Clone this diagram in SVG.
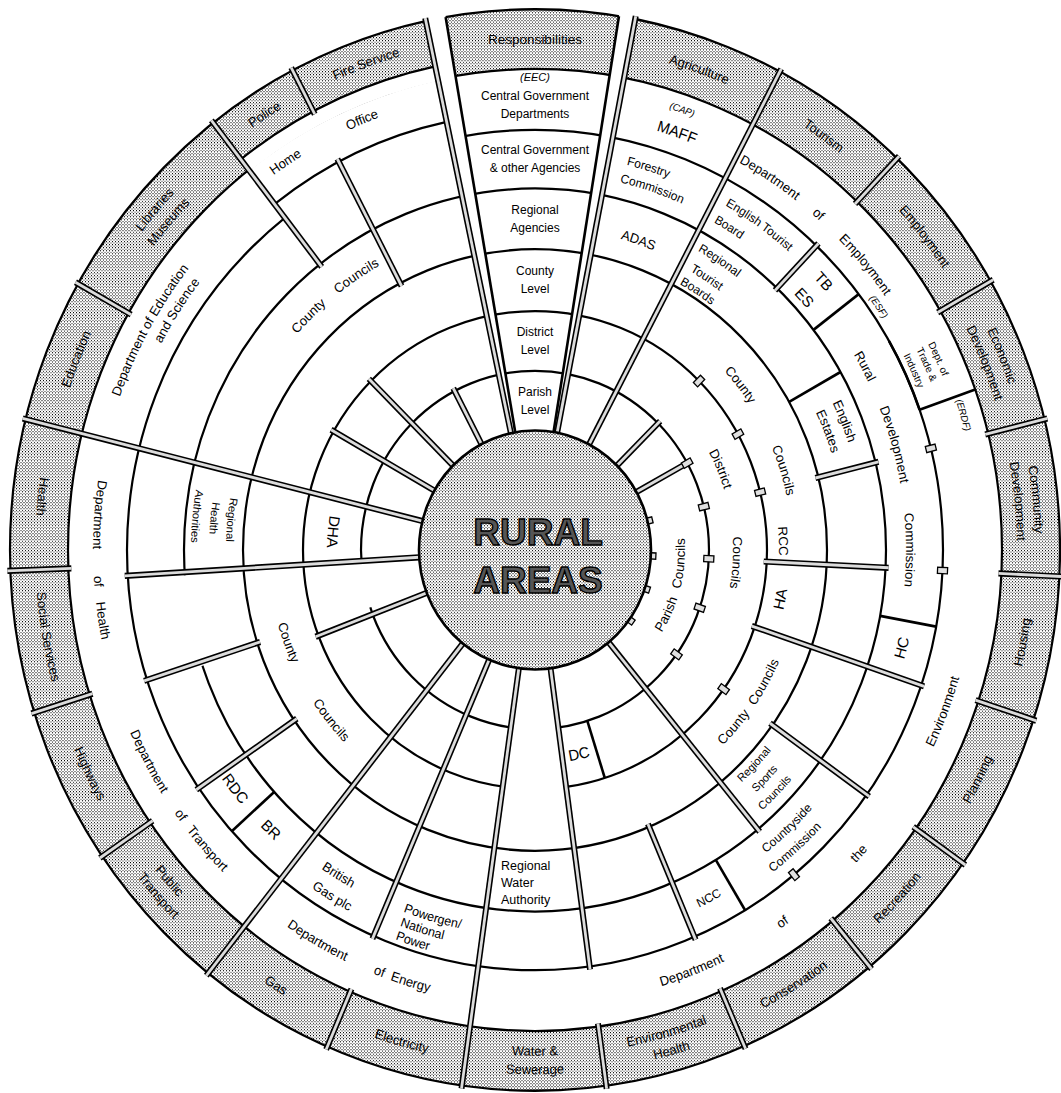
<svg xmlns="http://www.w3.org/2000/svg" xmlns:xlink="http://www.w3.org/1999/xlink" width="1061" height="1093" viewBox="0 0 1061 1093">
<defs>
<pattern id="st" width="3" height="3" patternUnits="userSpaceOnUse"><rect width="3" height="3" fill="#fff"/><rect width="1" height="1" fill="#000"/><rect x="1.5" y="1.5" width="1" height="1" fill="#000"/></pattern>
<path id="o490" d="M0,491A491,491 0 1,1 0,-491A491,491 0 1,1 0,491"/>
<path id="o498" d="M0,498A498,498 0 1,1 0,-498A498,498 0 1,1 0,498"/>
<path id="o499" d="M0,500A500,500 0 1,1 0,-500A500,500 0 1,1 0,500"/>
<path id="o481" d="M0,482A482,482 0 1,1 0,-482A482,482 0 1,1 0,482"/>
<path id="i499" d="M0,-500A500,500 0 1,0 0,500A500,500 0 1,0 0,-500"/>
<path id="i489" d="M0,-491A491,491 0 1,0 0,491A491,491 0 1,0 0,-491"/>
<path id="i507" d="M0,-509A509,509 0 1,0 0,509A509,509 0 1,0 0,-509"/>
<path id="o448" d="M0,448A448,448 0 1,1 0,-448A448,448 0 1,1 0,448"/>
<path id="o447" d="M0,449A449,449 0 1,1 0,-449A449,449 0 1,1 0,449"/>
<path id="o443" d="M0,445A445,445 0 1,1 0,-445A445,445 0 1,1 0,445"/>
<path id="o441" d="M0,441A441,441 0 1,1 0,-441A441,441 0 1,1 0,441"/>
<path id="o428" d="M0,428A428,428 0 1,1 0,-428A428,428 0 1,1 0,428"/>
<path id="o425" d="M0,425A425,425 0 1,1 0,-425A425,425 0 1,1 0,425"/>
<path id="o424" d="M0,424A424,424 0 1,1 0,-424A424,424 0 1,1 0,424"/>
<path id="o414" d="M0,414A414,414 0 1,1 0,-414A414,414 0 1,1 0,414"/>
<path id="i441" d="M0,-442A442,442 0 1,0 0,442A442,442 0 1,0 0,-442"/>
<path id="o385" d="M0,385A385,385 0 1,1 0,-385A385,385 0 1,1 0,385"/>
<path id="o384" d="M0,384A384,384 0 1,1 0,-384A384,384 0 1,1 0,384"/>
<path id="o371" d="M0,371A371,371 0 1,1 0,-371A371,371 0 1,1 0,371"/>
<path id="o367" d="M0,367A367,367 0 1,1 0,-367A367,367 0 1,1 0,367"/>
<path id="o365" d="M0,365A365,365 0 1,1 0,-365A365,365 0 1,1 0,365"/>
<path id="o359" d="M0,359A359,359 0 1,1 0,-359A359,359 0 1,1 0,359"/>
<path id="i374" d="M0,-374A374,374 0 1,0 0,374A374,374 0 1,0 0,-374"/>
<path id="i375" d="M0,-375A375,375 0 1,0 0,375A375,375 0 1,0 0,-375"/>
<path id="i376" d="M0,-376A376,376 0 1,0 0,376A376,376 0 1,0 0,-376"/>
<path id="i384" d="M0,-384A384,384 0 1,0 0,384A384,384 0 1,0 0,-384"/>
<path id="i389" d="M0,-389A389,389 0 1,0 0,389A389,389 0 1,0 0,-389"/>
<path id="i393" d="M0,-393A393,393 0 1,0 0,393A393,393 0 1,0 0,-393"/>
<path id="i397" d="M0,-397A397,397 0 1,0 0,397A397,397 0 1,0 0,-397"/>
<path id="i403" d="M0,-403A403,403 0 1,0 0,403A403,403 0 1,0 0,-403"/>
<path id="o333" d="M0,333A333,333 0 1,1 0,-333A333,333 0 1,1 0,333"/>
<path id="o330" d="M0,330A330,330 0 1,1 0,-330A330,330 0 1,1 0,330"/>
<path id="o317" d="M0,317A317,317 0 1,1 0,-317A317,317 0 1,1 0,317"/>
<path id="o314" d="M0,314A314,314 0 1,1 0,-314A314,314 0 1,1 0,314"/>
<path id="o312" d="M0,312A312,312 0 1,1 0,-312A312,312 0 1,1 0,312"/>
<path id="o311" d="M0,311A311,311 0 1,1 0,-311A311,311 0 1,1 0,311"/>
<path id="o296" d="M0,296A296,296 0 1,1 0,-296A296,296 0 1,1 0,296"/>
<path id="i306" d="M0,-306A306,306 0 1,0 0,306A306,306 0 1,0 0,-306"/>
<path id="i309" d="M0,-309A309,309 0 1,0 0,309A309,309 0 1,0 0,-309"/>
<path id="i323" d="M0,-323A323,323 0 1,0 0,323A323,323 0 1,0 0,-323"/>
<path id="i326" d="M0,-326A326,326 0 1,0 0,326A326,326 0 1,0 0,-326"/>
<path id="i340" d="M0,-340A340,340 0 1,0 0,340A340,340 0 1,0 0,-340"/>
<path id="i344" d="M0,-344A344,344 0 1,0 0,344A344,344 0 1,0 0,-344"/>
<path id="o257" d="M0,257A257,257 0 1,1 0,-257A257,257 0 1,1 0,257"/>
<path id="o244" d="M0,244A244,244 0 1,1 0,-244A244,244 0 1,1 0,244"/>
<path id="i255" d="M0,-255A255,255 0 1,0 0,255A255,255 0 1,0 0,-255"/>
<path id="i267" d="M0,-267A267,267 0 1,0 0,267A267,267 0 1,0 0,-267"/>
<path id="o198" d="M0,198A198,198 0 1,1 0,-198A198,198 0 1,1 0,198"/>
<path id="i208" d="M0,-208A208,208 0 1,0 0,208A208,208 0 1,0 0,-208"/>
<path id="i150" d="M0,-150A150,150 0 1,0 0,150A150,150 0 1,0 0,-150"/>
<rect id="mk" x="-5" y="-3" width="10" height="6"/>
</defs>
<style>
.ln{fill:none;stroke:#000;stroke-width:2.2}
.er{fill:none;stroke:#fff;stroke-width:4.5}
.bar line{stroke:#000;stroke-width:6}
.bar line.in{stroke:#dcdcdc;stroke-width:2.8}
.mk use{fill:#e0e0e0;stroke:#000;stroke-width:1.3}
.sol{stroke:#000;stroke-width:2.6;fill:none}
text{font-family:"Liberation Sans",Arial,Helvetica,sans-serif;font-size:13px;fill:#000;text-anchor:middle}
.sm{font-size:10px}
.it{font-style:italic;font-size:9.5px}
.big{font-size:15px}
.c12{font-size:12px}
.c125{font-size:12.5px}
.c11{font-size:11px}
.ws{word-spacing:12px}
.rural{font-size:37px;font-weight:bold;fill:#555;stroke:#000;stroke-width:1.4}
</style>
<rect width="1061" height="1093" fill="#fff"/>
<g id="wheel" transform="translate(535,550) scale(1,1.03)">
<path id="outer-ring" d="M0,-525A525,525 0 1,1 0,525A525,525 0 1,1 0,-525Z M0,-467A467,467 0 1,0 0,467A467,467 0 1,0 0,-467Z" fill="url(#st)" fill-rule="evenodd"/>
<g id="rings">
<circle class="ln" r="525" stroke-width="2.6"/>
<circle class="ln" r="467"/>
<circle class="ln" r="408"/>
<circle class="ln" r="351"/>
<circle class="ln" r="292"/>
<circle class="ln" r="232"/>
<circle class="ln" r="174"/>
</g>
<g id="erase">
<path class="er" d="M-332.5,112.3A351,351 0 0,1 -350.1,24.5"/>
<path class="er" d="M-164.8,55.7A174,174 0 0,1 -173.6,12.1"/>
<path class="er" d="M22.41,172.55A174,174 0 0,1 -23.31,172.43"/>
<path class="er" d="M29.88,230.07A232,232 0 0,1 -31.09,229.91"/>
<path d="M-285.31,-367.82A465.5,465.5 0 0,1 -96.78,-455.33L-99.80,-469.51A480,480 0 0,0 -294.20,-379.28Z" fill="#fff"/>
<path class="ln" d="M-294.20,-379.28A480,480 0 0,1 -99.80,-469.51"/>
<path class="er" d="M-250.07,-322.39A408,408 0 0,1 -84.83,-399.08"/>
<path class="ln" d="M-260.49,-335.82A425,425 0 0,1 -88.36,-415.71"/>
</g>
<g id="channels" fill="#fff">
<polygon points="18.55,-114.51 22.13,-113.87 101.13,-520.26 84.74,-523.18"/>
<polygon points="-19.74,-114.31 -24.12,-113.47 -110.19,-518.42 -90.21,-522.27"/>
</g>
<g id="column-edges" class="sol">
<line y1="-116" y2="-525" transform="rotate(9.2)"/>
<line y1="-116" y2="-525" transform="rotate(-9.8)"/>
</g>
<g id="connectors">
<g class="bar" transform="rotate(11)"><line y1="-116" y2="-528"/><line class="in" y1="-116" y2="-528"/></g>
<g class="bar" transform="rotate(-12)"><line y1="-116" y2="-528"/><line class="in" y1="-116" y2="-528"/></g>
<g class="bar" transform="rotate(27.8)"><line y1="-116" y2="-528"/><line class="in" y1="-116" y2="-528"/></g>
<g class="bar" transform="rotate(45)"><line y1="-116" y2="-177"/><line class="in" y1="-116" y2="-177"/></g>
<g class="bar" transform="rotate(43.6)"><line y1="-348" y2="-411"/><line class="in" y1="-348" y2="-411"/></g>
<g class="bar" transform="rotate(43.6)"><line y1="-464" y2="-528"/><line class="in" y1="-464" y2="-528"/></g>
<g class="bar" transform="rotate(61)"><line y1="-116" y2="-177"/><line class="in" y1="-116" y2="-177"/></g>
<g class="bar" transform="rotate(60.2)"><line y1="-464" y2="-528"/><line class="in" y1="-464" y2="-528"/></g>
<g class="bar" transform="rotate(76)"><line y1="-289" y2="-354"/><line class="in" y1="-289" y2="-354"/></g>
<g class="bar" transform="rotate(76)"><line y1="-464" y2="-528"/><line class="in" y1="-464" y2="-528"/></g>
<g class="bar" transform="rotate(92.8)"><line y1="-229" y2="-354"/><line class="in" y1="-229" y2="-354"/></g>
<g class="bar" transform="rotate(92.8)"><line y1="-464" y2="-528"/><line class="in" y1="-464" y2="-528"/></g>
<g class="bar" transform="rotate(108.8)"><line y1="-229" y2="-411"/><line class="in" y1="-229" y2="-411"/></g>
<g class="bar" transform="rotate(108.3)"><line y1="-464" y2="-528"/><line class="in" y1="-464" y2="-528"/></g>
<g class="bar" transform="rotate(125.6)"><line y1="-289" y2="-411"/><line class="in" y1="-289" y2="-411"/></g>
<g class="bar" transform="rotate(125.4)"><line y1="-464" y2="-528"/><line class="in" y1="-464" y2="-528"/></g>
<g class="bar" transform="rotate(140.6)"><line y1="-116" y2="-354"/><line class="in" y1="-116" y2="-354"/></g>
<g class="bar" transform="rotate(140.4)"><line y1="-464" y2="-528"/><line class="in" y1="-464" y2="-528"/></g>
<g class="bar" transform="rotate(157)"><line y1="-289" y2="-411"/><line class="in" y1="-289" y2="-411"/></g>
<g class="bar" transform="rotate(156.5)"><line y1="-464" y2="-528"/><line class="in" y1="-464" y2="-528"/></g>
<g class="bar" transform="rotate(172.3)"><line y1="-116" y2="-411"/><line class="in" y1="-116" y2="-411"/></g>
<g class="bar" transform="rotate(172.2)"><line y1="-464" y2="-528"/><line class="in" y1="-464" y2="-528"/></g>
<g class="bar" transform="rotate(188)"><line y1="-116" y2="-528"/><line class="in" y1="-116" y2="-528"/></g>
<g class="bar" transform="rotate(203.3)"><line y1="-116" y2="-411"/><line class="in" y1="-116" y2="-411"/></g>
<g class="bar" transform="rotate(203.3)"><line y1="-464" y2="-528"/><line class="in" y1="-464" y2="-528"/></g>
<g class="bar" transform="rotate(218.5)"><line y1="-116" y2="-528"/><line class="in" y1="-116" y2="-528"/></g>
<g class="bar" transform="rotate(235.5)"><line y1="-289" y2="-411"/><line class="in" y1="-289" y2="-411"/></g>
<g class="bar" transform="rotate(235.5)"><line y1="-464" y2="-528"/><line class="in" y1="-464" y2="-528"/></g>
<g class="bar" transform="rotate(249)"><line y1="-116" y2="-235"/><line class="in" y1="-116" y2="-235"/></g>
<g class="bar" transform="rotate(252)"><line y1="-289" y2="-411"/><line class="in" y1="-289" y2="-411"/></g>
<g class="bar" transform="rotate(252.5)"><line y1="-464" y2="-528"/><line class="in" y1="-464" y2="-528"/></g>
<g class="bar" transform="rotate(266.5)"><line y1="-116" y2="-411"/><line class="in" y1="-116" y2="-411"/></g>
<g class="bar" transform="rotate(267.8)"><line y1="-464" y2="-528"/><line class="in" y1="-464" y2="-528"/></g>
<g class="bar" transform="rotate(284)"><line y1="-116" y2="-528"/><line class="in" y1="-116" y2="-528"/></g>
<g class="bar" transform="rotate(299.8)"><line y1="-116" y2="-235"/><line class="in" y1="-116" y2="-235"/></g>
<g class="bar" transform="rotate(299.5)"><line y1="-464" y2="-528"/><line class="in" y1="-464" y2="-528"/></g>
<g class="bar" transform="rotate(315)"><line y1="-116" y2="-235"/><line class="in" y1="-116" y2="-235"/></g>
<g class="bar" transform="rotate(322.2)"><line y1="-348" y2="-528"/><line class="in" y1="-348" y2="-528"/></g>
<g class="bar" transform="rotate(332.5)"><line y1="-116" y2="-177"/><line class="in" y1="-116" y2="-177"/></g>
<g class="bar" transform="rotate(332.5)"><line y1="-289" y2="-428"/><line class="in" y1="-289" y2="-428"/></g>
<g class="bar" transform="rotate(332.5)"><line y1="-477" y2="-528"/><line class="in" y1="-477" y2="-528"/></g>
<line class="sol" y1="-351" y2="-408" transform="rotate(228)"/>
<line class="sol" y1="-351" y2="-408" transform="rotate(100.5)"/>
<line class="sol" y1="-351" y2="-408" transform="rotate(149)"/>
<line class="sol" y1="-351" y2="-408" transform="rotate(52.5)"/>
<line class="sol" y1="-408" y2="-467" transform="rotate(70.5)"/>
<line class="sol" y1="-292" y2="-351" transform="rotate(60.5)"/>
<line class="sol" y1="-174" y2="-232" transform="rotate(162.5)"/>
<path class="sol" d="M354.09,-202.73A408,408 0 0,1 384.60,-136.19"/>
<g class="mk">
<use href="#mk" transform="rotate(76) translate(0,-116) rotate(90)"/>
<use href="#mk" transform="rotate(76) translate(0,-174) rotate(90)"/>
<use href="#mk" transform="rotate(76) translate(0,-232) rotate(90)"/>
<use href="#mk" transform="rotate(76) translate(0,-408) rotate(90)"/>
<use href="#mk" transform="rotate(92.8) translate(0,-116) rotate(90)"/>
<use href="#mk" transform="rotate(92.8) translate(0,-174) rotate(90)"/>
<use href="#mk" transform="rotate(92.8) translate(0,-408) rotate(90)"/>
<use href="#mk" transform="rotate(108.8) translate(0,-116) rotate(90)"/>
<use href="#mk" transform="rotate(108.8) translate(0,-174) rotate(90)"/>
<use href="#mk" transform="rotate(125.6) translate(0,-116) rotate(90)"/>
<use href="#mk" transform="rotate(125.6) translate(0,-174) rotate(90)"/>
<use href="#mk" transform="rotate(125.6) translate(0,-232) rotate(90)"/>
<use href="#mk" transform="rotate(140.6) translate(0,-408) rotate(90)"/>
<use href="#mk" transform="rotate(61) translate(0,-232) rotate(90)"/>
<use href="#mk" transform="rotate(61) translate(0,-174) rotate(90)"/>
<use href="#mk" transform="rotate(45) translate(0,-232) rotate(90)"/>
</g>
</g>
<g id="outer-labels">
<text transform="rotate(19.4)"><textPath href="#o490" startOffset="50%">Agriculture</textPath></text>
<text transform="rotate(35.7)"><textPath href="#o490" startOffset="50%">Tourism</textPath></text>
<text transform="rotate(52)"><textPath href="#o490" startOffset="50%">Employment</textPath></text>
<text transform="rotate(68)"><textPath href="#o499" startOffset="50%">Economic</textPath></text>
<text transform="rotate(68)"><textPath href="#o481" startOffset="50%">Development</textPath></text>
<text transform="rotate(84.4)"><textPath href="#o499" startOffset="50%">Community</textPath></text>
<text transform="rotate(84.4)"><textPath href="#o481" startOffset="50%">Development</textPath></text>
<text transform="rotate(-79.6)"><textPath href="#i499" startOffset="50%">Housing</textPath></text>
<text transform="rotate(-63.3)"><textPath href="#i499" startOffset="50%">Planning</textPath></text>
<text transform="rotate(-47)"><textPath href="#i499" startOffset="50%">Recreation</textPath></text>
<text transform="rotate(-31.5)"><textPath href="#i499" startOffset="50%">Conservation</textPath></text>
<text transform="rotate(-15.7)"><textPath href="#i489" startOffset="50%">Environmental</textPath></text>
<text transform="rotate(-15.7)"><textPath href="#i507" startOffset="50%">Health</textPath></text>
<text><textPath href="#i489" startOffset="50%">Water &amp;</textPath></text>
<text><textPath href="#i507" startOffset="50%">Sewerage</textPath></text>
<text transform="rotate(15.6)"><textPath href="#i499" startOffset="50%">Electricity</textPath></text>
<text transform="rotate(31.5)"><textPath href="#i499" startOffset="50%">Gas</textPath></text>
<text transform="rotate(48.7)"><textPath href="#i489" startOffset="50%">Public</textPath></text>
<text transform="rotate(48.3)"><textPath href="#i507" startOffset="50%">Transport</textPath></text>
<text transform="rotate(64)"><textPath href="#i499" startOffset="50%">Highways</textPath></text>
<text transform="rotate(80.2)"><textPath href="#i499" startOffset="50%">Social Services</textPath></text>
<text transform="rotate(96)"><textPath href="#i499" startOffset="50%">Health</textPath></text>
<text transform="rotate(-68)"><textPath href="#o490" startOffset="50%">Education</textPath></text>
<text transform="rotate(-49)"><textPath href="#o499" startOffset="50%">Libraries</textPath></text>
<text transform="rotate(-49)"><textPath href="#o481" startOffset="50%">Museums</textPath></text>
<text transform="rotate(-32.6)"><textPath href="#o498" startOffset="50%">Police</textPath></text>
<text transform="rotate(-19.7)"><textPath href="#o498" startOffset="50%">Fire Service</textPath></text>
</g>
<g id="ring-b">
<text transform="rotate(-33.5)"><textPath href="#o448" startOffset="50%">Home</textPath></text>
<text transform="rotate(-22.5)"><textPath href="#o448" startOffset="50%">Office</textPath></text>
<text class="it" transform="rotate(19)"><textPath href="#o447" startOffset="50%">(CAP)</textPath></text>
<text class="big" transform="rotate(19.3)"><textPath href="#o425" startOffset="50%">MAFF</textPath></text>
<text transform="rotate(33)"><textPath href="#o428" startOffset="50%">Department</textPath></text>
<text transform="rotate(41)"><textPath href="#o428" startOffset="50%">of</textPath></text>
<text transform="rotate(50)"><textPath href="#o428" startOffset="50%">Employment</textPath></text>
<text class="it" transform="rotate(55.5)"><textPath href="#o414" startOffset="50%">(ESF)</textPath></text>
<text class="sm" transform="rotate(65.3)"><textPath href="#o441" startOffset="50%">Dept. of</textPath></text>
<text class="sm" transform="rotate(65.3)"><textPath href="#o428" startOffset="50%">Trade &amp;</textPath></text>
<text class="sm" transform="rotate(65.3)"><textPath href="#o414" startOffset="50%">Industry</textPath></text>
<text class="it" transform="rotate(73)"><textPath href="#o443" startOffset="50%">(ERDF)</textPath></text>
<text transform="rotate(-61)"><textPath href="#o441" startOffset="50%">Department of Education</textPath></text>
<text transform="rotate(-57)"><textPath href="#o424" startOffset="50%">and Science</textPath></text>
<text transform="rotate(94.5)"><textPath href="#i441" startOffset="50%">Department</textPath></text>
<text transform="rotate(86)"><textPath href="#i441" startOffset="50%">of</textPath></text>
<text transform="rotate(81)"><textPath href="#i441" startOffset="50%">Health</textPath></text>
<text transform="rotate(62)"><textPath href="#i441" startOffset="50%">Department</textPath></text>
<text transform="rotate(54)"><textPath href="#i441" startOffset="50%">of</textPath></text>
<text transform="rotate(48.5)"><textPath href="#i441" startOffset="50%">Transport</textPath></text>
<text transform="rotate(29.8)"><textPath href="#i441" startOffset="50%">Department</textPath></text>
<text transform="rotate(20.8)"><textPath href="#i441" startOffset="50%">of</textPath></text>
<text transform="rotate(16.5)"><textPath href="#i441" startOffset="50%">Energy</textPath></text>
<text transform="rotate(-21)"><textPath href="#i441" startOffset="50%">Department</textPath></text>
<text transform="rotate(-34.4)"><textPath href="#i441" startOffset="50%">of</textPath></text>
<text transform="rotate(-47.7)"><textPath href="#i441" startOffset="50%">the</textPath></text>
<text transform="rotate(-69)"><textPath href="#i441" startOffset="50%">Environment</textPath></text>
</g>
<g id="ring-c">
<text class="c12" transform="rotate(17)"><textPath href="#o385" startOffset="50%">Forestry</textPath></text>
<text class="c12" transform="rotate(18.5)"><textPath href="#o367" startOffset="50%">Commission</textPath></text>
<text class="c12" transform="rotate(35.4)"><textPath href="#o385" startOffset="50%">English Tourist</textPath></text>
<text class="c12" transform="rotate(31.8)"><textPath href="#o365" startOffset="50%">Board</textPath></text>
<text class="big" transform="rotate(47.9)"><textPath href="#o384" startOffset="50%">TB</textPath></text>
<text class="big" transform="rotate(47.7)"><textPath href="#o359" startOffset="50%">ES</textPath></text>
<text transform="rotate(61.6)"><textPath href="#o371" startOffset="50%">Rural</textPath></text>
<text transform="rotate(74.1)"><textPath href="#o371" startOffset="50%">Development</textPath></text>
<text transform="rotate(90)"><textPath href="#o371" startOffset="50%">Commission</textPath></text>
<text class="big" transform="rotate(-75.5)"><textPath href="#i384" startOffset="50%">HC</textPath></text>
<text class="c12" transform="rotate(-43)"><textPath href="#i374" startOffset="50%">Countryside</textPath></text>
<text class="c12" transform="rotate(-42)"><textPath href="#i393" startOffset="50%">Commission</textPath></text>
<text class="c12" transform="rotate(-27.2)"><textPath href="#i384" startOffset="50%">NCC</textPath></text>
<text class="c125" transform="rotate(16)"><textPath href="#i375" startOffset="50%">Powergen/</textPath></text>
<text class="c125" transform="rotate(17)"><textPath href="#i389" startOffset="50%">National</textPath></text>
<text class="c125" transform="rotate(17.8)"><textPath href="#i403" startOffset="50%">Power</textPath></text>
<text transform="rotate(31.9)"><textPath href="#i376" startOffset="50%">British</textPath></text>
<text transform="rotate(31.1)"><textPath href="#i397" startOffset="50%">Gas plc</textPath></text>
<text class="big" transform="rotate(52.3)"><textPath href="#i384" startOffset="50%">RDC</textPath></text>
<text class="big" transform="rotate(44.2)"><textPath href="#i384" startOffset="50%">BR</textPath></text>
</g>
<g id="ring-d">
<text transform="rotate(19)"><textPath href="#o314" startOffset="50%">ADAS</textPath></text>
<text class="c12" transform="rotate(33.3)"><textPath href="#o333" startOffset="50%">Regional</textPath></text>
<text class="c12" transform="rotate(33)"><textPath href="#o312" startOffset="50%">Tourist</textPath></text>
<text class="c12" transform="rotate(32.9)"><textPath href="#o296" startOffset="50%">Boards</textPath></text>
<text transform="rotate(68)"><textPath href="#o330" startOffset="50%">English</textPath></text>
<text transform="rotate(68.5)"><textPath href="#o311" startOffset="50%">Estates</textPath></text>
<text class="c11" transform="rotate(-46.5)"><textPath href="#i306" startOffset="50%">Regional</textPath></text>
<text class="c11" transform="rotate(-46)"><textPath href="#i323" startOffset="50%">Sports</textPath></text>
<text class="c11" transform="rotate(-45.5)"><textPath href="#i340" startOffset="50%">Councils</textPath></text>
<text class="c11" transform="rotate(95.5)"><textPath href="#i309" startOffset="50%">Regional</textPath></text>
<text class="c11" transform="rotate(95.5)"><textPath href="#i326" startOffset="50%">Health</textPath></text>
<text class="c11" transform="rotate(95.5)"><textPath href="#i344" startOffset="50%">Authorities</textPath></text>
<text class="ws" transform="rotate(-39)"><textPath href="#o317" startOffset="50%">County Councils</textPath></text>
</g>
<g id="ring-e">
<text transform="rotate(52)"><textPath href="#o257" startOffset="50%">County</textPath></text>
<text transform="rotate(72.7)"><textPath href="#o257" startOffset="50%">Councils</textPath></text>
<text transform="rotate(88)"><textPath href="#o244" startOffset="50%">RCC</textPath></text>
<text class="big" transform="rotate(-79)"><textPath href="#i255" startOffset="50%">HA</textPath></text>
<text style="word-spacing:5px" transform="rotate(-55.4)"><textPath href="#i267" startOffset="50%">County Councils</textPath></text>
<text transform="rotate(70)"><textPath href="#i267" startOffset="50%">County</textPath></text>
<text transform="rotate(51)"><textPath href="#i267" startOffset="50%">Councils</textPath></text>
</g>
<g id="ring-f">
<text transform="rotate(67)"><textPath href="#o198" startOffset="50%">District</textPath></text>
<text transform="rotate(93.5)"><textPath href="#o198" startOffset="50%">Councils</textPath></text>
<text class="big" transform="rotate(95)"><textPath href="#i208" startOffset="50%">DHA</textPath></text>
<text class="big" transform="rotate(-12.5)"><textPath href="#i208" startOffset="50%">DC</textPath></text>
</g>
<g id="ring-g">
<text style="word-spacing:6px" transform="rotate(-76)"><textPath href="#i150" startOffset="50%">Parish Councils</textPath></text>
</g>
<circle id="centre" r="116" fill="url(#st)" stroke="#000" stroke-width="2.6"/>
</g>
<g id="column">
<text x="535" y="44" style="font-size:13.5px">Responsibilities</text>
<text x="535" y="81" class="it" style="font-size:11px">(EEC)</text>
<text x="535" y="100" class="c12">Central Government</text>
<text x="535" y="118" class="c12">Departments</text>
<text x="535" y="154" class="c12">Central Government</text>
<text x="535" y="172" class="c12">&amp; other Agencies</text>
<text x="535" y="214" class="c12">Regional</text>
<text x="535" y="232" class="c12">Agencies</text>
<text x="535" y="275" class="c12">County</text>
<text x="535" y="293" class="c12">Level</text>
<text x="535" y="336" class="c12">District</text>
<text x="535" y="354" class="c12">Level</text>
<text x="535" y="396" class="c12">Parish</text>
<text x="535" y="414" class="c12">Level</text>
</g>
<g id="water">
<text x="501" y="870" class="c125" style="text-anchor:start">Regional</text>
<text x="501" y="887" class="c125" style="text-anchor:start">Water</text>
<text x="501" y="904" class="c125" style="text-anchor:start">Authority</text>
</g>
<g id="rural-areas">
<text x="538" y="545" class="rural">RURAL</text>
<text x="538" y="593" class="rural">AREAS</text>
</g>
</svg>
